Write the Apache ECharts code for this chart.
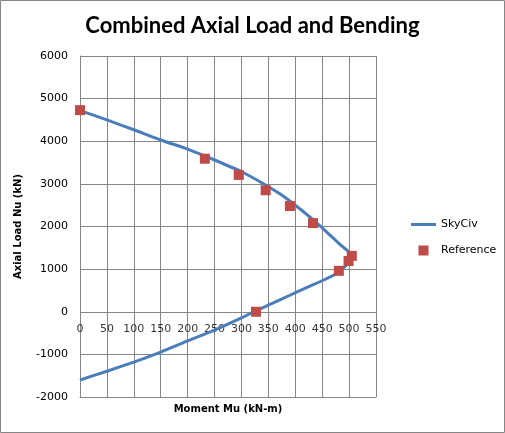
<!DOCTYPE html>
<html>
<head>
<meta charset="utf-8">
<script src="https://cdn.jsdelivr.net/npm/echarts@6/dist/echarts.min.js"></script>
<style>
html, body { margin: 0; padding: 0; background: #fff; }
#chart { width: 505px; height: 433px; }
</style>
</head>
<body>
<div id="chart"></div>
<script>
// SkyCiv interaction curve, [moment, axial]
var skycivCurve = [
    [0, 4720], [50, 4500], [100, 4270], [150, 4030], [200, 3815], [250, 3560],
    [300, 3285], [340, 3010], [372, 2760], [403, 2470], [434, 2150],
    [458, 1875], [483, 1580], [504, 1330],
    [502, 1220], [495, 1090], [477, 897], [452, 739], [421, 568], [390, 387],
    [359, 207], [325, 15], [300, -145], [250, -430], [200, -685],
    [150, -945], [100, -1180], [50, -1395], [0, -1600]
];
// reference points
var referencePts = [
    [0, 4730], [232, 3590], [295, 3210], [345, 2850], [390, 2480],
    [433, 2080], [505, 1310], [499, 1190], [481, 960], [327, 0]
];
var xTicks = [0, 550, 50];
var yTicks = [-2000, 6000, 1000];

var myChart = echarts.init(document.getElementById('chart'));
var titleFont = 'Lato, "Open Sans", sans-serif';
var font = '"DejaVu Sans", Verdana, sans-serif';
var option = {
    backgroundColor: '#fff',
    animation: false,
    title: {
        text: 'Combined Axial Load and Bending',
        left: 'center',
        top: 10,
        textStyle: { fontFamily: titleFont, fontSize: 22, fontWeight: 'bold', color: '#000' }
    },
    legend: {
        orient: 'vertical',
        left: 406,
        top: 214,
        itemWidth: 25,
        itemHeight: 10,
        itemGap: 15,
        textStyle: { fontFamily: font, fontSize: 11, color: '#000' },
        data: [
            { name: 'SkyCiv', icon: 'path://M0,0 L25,0 L25,3 L0,3 Z' },
            { name: 'Reference', icon: 'path://M0,0 L9,0 L9,9 L0,9 Z' }
        ]
    },
    grid: { left: 80, right: 129, top: 56, bottom: 36 },
    xAxis: {
        type: 'value',
        min: xTicks[0], max: xTicks[1], interval: xTicks[2],
        name: 'Moment Mu (kN-m)',
        nameLocation: 'middle',
        nameGap: 7,
        nameTextStyle: { fontFamily: font, fontSize: 10, fontWeight: 'bold', color: '#000' },
        axisLine: { onZero: false, lineStyle: { color: '#868686' } },
        axisTick: { show: false },
        axisLabel: { show: false },
        splitLine: { lineStyle: { color: '#868686', width: 1 } }
    },
    yAxis: {
        type: 'value',
        min: yTicks[0], max: yTicks[1], interval: yTicks[2],
        name: 'Axial Load Nu (kN)',
        nameLocation: 'middle',
        nameGap: 57,
        nameTextStyle: { fontFamily: font, fontSize: 10, fontWeight: 'bold', color: '#000' },
        axisLine: { show: true, lineStyle: { color: '#868686' } },
        axisTick: { show: false },
        axisLabel: {
            fontFamily: font, fontSize: 11, color: '#000', margin: 12,
            formatter: function (v) { return String(v); }
        },
        splitLine: { lineStyle: { color: '#868686', width: 1 } }
    },
    series: [
        {
            name: 'SkyCiv',
            type: 'line',
            data: skycivCurve,
            symbol: 'none',
            smooth: 0.2,
            lineStyle: { color: '#4A7EBB', width: 3 },
            itemStyle: { color: '#4A7EBB' },
            z: 2
        },
        {
            name: 'Reference',
            type: 'scatter',
            data: referencePts,
            symbol: 'rect',
            symbolSize: 10,
            itemStyle: { color: '#BE4B48', opacity: 1 },
            z: 3
        },
        {
            // x tick labels drawn along the y=0 line
            name: 'xlabels',
            type: 'scatter',
            data: (function () {
                var a = [];
                for (var v = xTicks[0]; v <= xTicks[1]; v += xTicks[2]) a.push([v, 0]);
                return a;
            })(),
            symbolSize: 0,
            silent: true,
            label: {
                show: true,
                position: 'bottom',
                distance: 12,
                formatter: function (p) { return p.value[0]; },
                fontFamily: font, fontSize: 11, color: '#000'
            },
            z: 1
        }
    ],
    graphic: [{
        type: 'rect',
        shape: { x: 0.5, y: 0.5, width: 504, height: 432 },
        style: { fill: 'none', stroke: '#868686', lineWidth: 1 },
        silent: true
    }]
};
myChart.setOption(option);
</script>
</body>
</html>
